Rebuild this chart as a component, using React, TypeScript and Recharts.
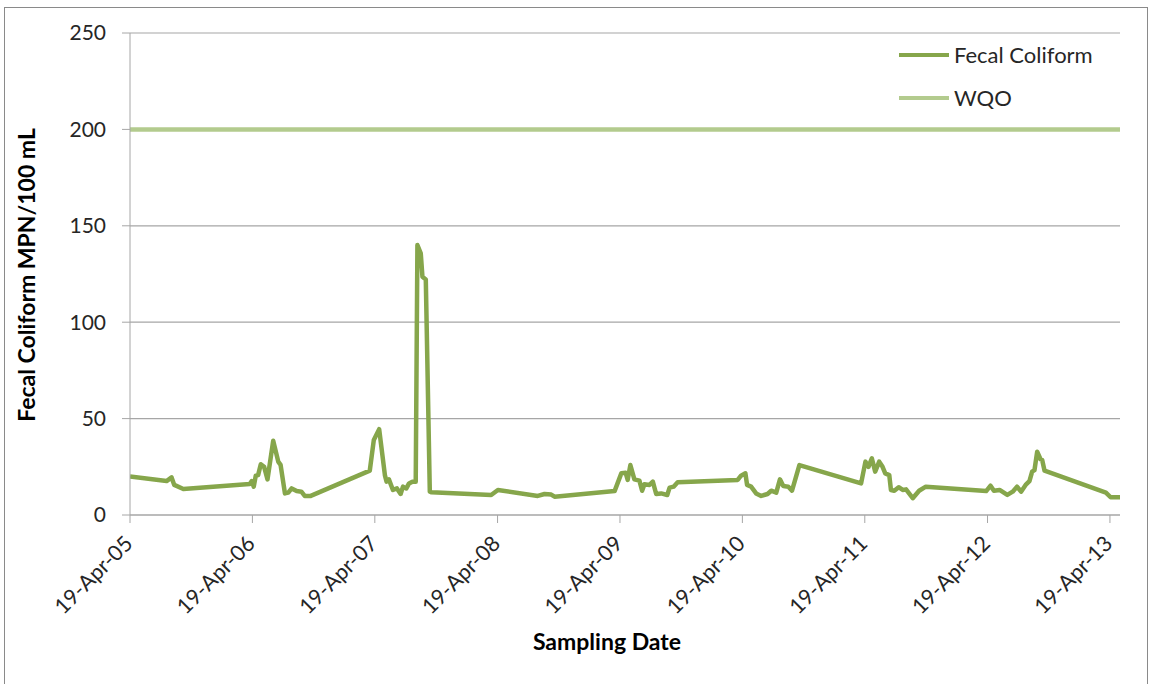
import React from 'react';
import { LineChart, Line, XAxis, YAxis, CartesianGrid, Legend } from 'recharts';

// sampling dates and fecal coliform counts (MPN/100 mL)
const sampleDates = [
  '2005-04-19', '2005-08-06', '2005-08-21', '2005-08-29', '2005-09-25',
  '2006-04-11', '2006-04-17', '2006-04-23', '2006-04-29', '2006-05-06', '2006-05-14', '2006-05-24',
  '2006-06-03', '2006-06-20', '2006-07-05', '2006-07-12', '2006-07-25', '2006-08-04', '2006-08-14',
  '2006-08-29', '2006-09-12', '2006-09-22', '2006-10-10',
  '2007-04-04', '2007-04-16', '2007-05-02', '2007-05-19', '2007-05-24', '2007-05-31', '2007-06-12',
  '2007-06-24', '2007-07-05', '2007-07-12', '2007-07-22', '2007-07-30', '2007-08-09', '2007-08-19',
  '2007-08-24', '2007-09-03', '2007-09-08', '2007-09-18', '2007-09-30', '2007-10-05',
  '2008-03-31', '2008-04-20', '2008-08-17', '2008-09-06', '2008-09-26', '2008-10-06',
  '2009-04-03', '2009-04-23', '2009-05-06', '2009-05-12', '2009-05-20', '2009-06-01', '2009-06-16',
  '2009-06-24', '2009-07-01', '2009-07-16', '2009-07-26', '2009-08-05', '2009-08-20', '2009-09-07',
  '2009-09-14', '2009-09-26', '2009-10-08',
  '2010-04-05', '2010-04-15', '2010-04-28', '2010-05-03', '2010-05-15', '2010-05-30', '2010-06-14',
  '2010-07-03', '2010-07-14', '2010-07-29', '2010-08-09', '2010-08-19', '2010-09-03', '2010-09-14',
  '2010-10-06',
  '2011-04-08', '2011-04-21', '2011-04-30', '2011-05-10', '2011-05-20', '2011-06-01', '2011-06-11',
  '2011-06-19', '2011-07-01', '2011-07-06', '2011-07-16', '2011-07-29', '2011-08-10', '2011-08-20',
  '2011-09-09', '2011-09-28', '2011-10-18',
  '2012-04-15', '2012-04-28', '2012-05-08', '2012-05-25', '2012-06-17', '2012-07-03', '2012-07-16',
  '2012-07-28', '2012-08-12', '2012-08-22', '2012-08-30', '2012-09-06', '2012-09-14', '2012-09-24',
  '2012-09-29', '2012-10-06',
  '2013-04-07', '2013-04-21', '2013-05-19',
];

const fecalColiform = [
  20, 17.6, 19.5, 15.6, 13.5,
  16.1, 17.6, 14.7, 20.4, 20.7, 26.3, 25,
  18.5, 38.5, 27.7, 26, 11.2, 11.6, 13.8,
  12.4, 12.1, 9.9, 9.9,
  23, 38.9, 44.5, 20.7, 17.3, 18.5, 13,
  13.8, 10.9, 14.7, 13.8, 16.4, 17.3, 17.3,
  140, 135.7, 123.6, 122.2, 12.1, 11.8,
  10.4, 13, 9.9, 10.9, 10.6, 9.5,
  12.4, 21.6, 21.9, 18.2, 25.9, 18.5, 17.8,
  12.6, 15.9, 15.6, 17.3, 10.9, 11.2, 10.4,
  14.2, 14.7, 17,
  18.2, 20.4, 21.6, 15.6, 14.7, 11.2, 9.9,
  10.9, 12.6, 11.6, 18.5, 15, 14.7, 12.6,
  25.9,
  16.4, 27.7, 25, 29.4, 22.5, 27.7, 25,
  21.6, 20.7, 13, 12.6, 14.4, 13, 13.3,
  8.7, 12.6, 14.7,
  12.4, 15.2, 12.6, 13, 10.4, 12.1, 14.7,
  12.1, 15.9, 17.6, 22.5, 23.3, 32.8, 28.9,
  28.5, 23,
  11.6, 9.2, 9.2,
];

const wqoDates = ['2005-04-19', '2013-05-19'];
const wqoValues = [200, 200];

const xTickDates = [
  '2005-04-19', '2006-04-19', '2007-04-19', '2008-04-19', '2009-04-19',
  '2010-04-19', '2011-04-19', '2012-04-19', '2013-04-19',
];
const yTicks = [0, 50, 100, 150, 200, 250];

const MONTHS = ['Jan', 'Feb', 'Mar', 'Apr', 'May', 'Jun', 'Jul', 'Aug', 'Sep', 'Oct', 'Nov', 'Dec'];
const toTime = (s: string) => {
  const [y, m, d] = s.split('-').map(Number);
  return Date.UTC(y, m - 1, d);
};
const fmtDate = (t: number) => {
  const d = new Date(t);
  return `${d.getUTCDate()}-${MONTHS[d.getUTCMonth()]}-${String(d.getUTCFullYear()).slice(2)}`;
};

const fecalData = sampleDates.map((d, i) => ({ t: toTime(d), value: fecalColiform[i] }));
const wqoData = wqoDates.map((d, i) => ({ t: toTime(d), value: wqoValues[i] }));

const FONT = 'Lato, "Open Sans", sans-serif';
const FECAL_COLOR = '#86a64b';
const WQO_COLOR = '#b3cb8e';
const GRID = '#a6a6a6';

const DateTick = (props: any) => {
  const { x, y, payload } = props;
  return (
    <g transform={`translate(${x + 4},${y + 20})`}>
      <text textAnchor="end" transform="rotate(-45)" fontSize={21.5} fontFamily={FONT} fill="#262626">
        {fmtDate(payload.value)}
      </text>
    </g>
  );
};

const renderLegend = (props: any) => {
  const items = props.payload || [];
  return (
    <div style={{ fontFamily: FONT, fontSize: 22, color: '#262626' }}>
      {items.map((it: any) => (
        <div key={it.value} style={{ display: 'flex', alignItems: 'center', height: 43 }}>
          <div style={{ width: 50, height: 4, background: it.color, marginRight: 5 }} />
          <span>{it.value}</span>
        </div>
      ))}
    </div>
  );
};

const App: React.FC = () => {
  return (
    <div
      style={{
        position: 'absolute',
        left: 4,
        top: 7,
        width: 1144,
        height: 678,
        border: '1px solid #8a8a8a',
        boxSizing: 'border-box',
        background: '#fff',
      }}
    >
      <LineChart width={1142} height={676} margin={{ top: 25, right: 27, bottom: 0, left: 0 }}>
        <CartesianGrid vertical={false} stroke={GRID} strokeWidth={1.2} />
        <XAxis
          dataKey="t"
          type="number"
          scale="time"
          domain={[toTime('2005-04-19'), toTime('2013-05-19')]}
          ticks={xTickDates.map(toTime)}
          interval={0}
          tick={<DateTick />}
          tickSize={8}
          tickMargin={2}
          height={169}
          stroke={GRID}
          allowDataOverflow
          label={{
            content: (p: any) => {
              const vb = p.viewBox;
              return (
                <text
                  x={vb.x + vb.width / 2 - 18}
                  y={vb.y + vb.height - 34}
                  textAnchor="middle"
                  fontSize={23}
                  fontWeight="bold"
                  fontFamily={FONT}
                  fill="#000"
                >
                  Sampling Date
                </text>
              );
            },
          }}
        />
        <YAxis
          type="number"
          domain={[0, 250]}
          ticks={yTicks}
          interval={0}
          width={125}
          tickSize={8}
          tickMargin={16}
          stroke={GRID}
          tick={{ fontSize: 21, fontFamily: FONT, fill: '#262626' }}
          label={{
            content: (p: any) => {
              const vb = p.viewBox;
              const cx = vb.x + 21;
              const cy = vb.y + vb.height / 2 + 1;
              return (
                <text
                  x={cx}
                  y={cy}
                  transform={`rotate(-90 ${cx} ${cy})`}
                  textAnchor="middle"
                  dominantBaseline="central"
                  fontSize={23}
                  fontWeight="bold"
                  fontFamily={FONT}
                  fill="#000"
                >
                  Fecal Coliform MPN/100 mL
                </text>
              );
            },
          }}
        />
        <Legend
          layout="vertical"
          align="center"
          verticalAlign="middle"
          wrapperStyle={{ left: 894, top: 25, width: 230 }}
          content={renderLegend}
        />
        <Line
          data={fecalData}
          dataKey="value"
          name="Fecal Coliform"
          type="linear"
          stroke={FECAL_COLOR}
          strokeWidth={4.5}
          strokeLinejoin="round"
          dot={false}
          isAnimationActive={false}
        />
        <Line
          data={wqoData}
          dataKey="value"
          name="WQO"
          type="linear"
          stroke={WQO_COLOR}
          strokeWidth={4.5}
          dot={false}
          isAnimationActive={false}
        />
      </LineChart>
    </div>
  );
};

export default App;
